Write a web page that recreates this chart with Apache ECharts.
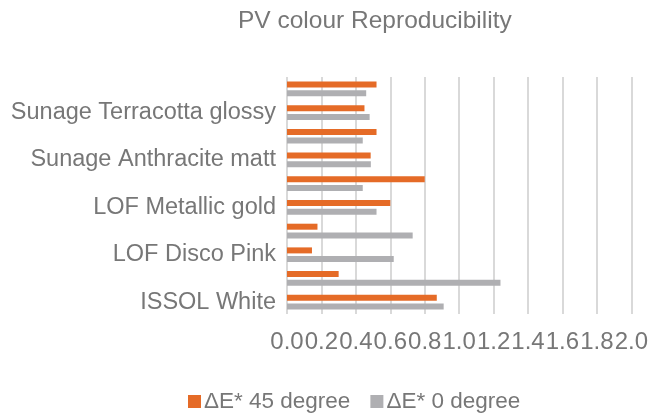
<!DOCTYPE html>
<html>
<head>
<meta charset="utf-8">
<script src="https://cdn.jsdelivr.net/npm/echarts@6/dist/echarts.min.js"></script>
<style>html,body{margin:0;padding:0;background:#fff;}#c{width:651px;height:417px;}</style>
</head>
<body>
<div id="c"></div>
<script>
// categories listed bottom to top
var categories = ['ISSOL White', 'ISSOL Terracotta', 'LOF Disco Pink', 'LOF Blue', 'LOF Metallic gold',
  'Sunage Anthracite glossy', 'Sunage Anthracite matt', 'Sunage Terracotta matt', 'Sunage Terracotta glossy', 'Sunage Green glossy'];
var seriesNames = ['ΔE* 45 degree', 'ΔE* 0 degree'];
var deltaE45 = [0.87, 0.30, 0.145, 0.177, 0.60, 0.80, 0.486, 0.52, 0.45, 0.52];
var deltaE0 = [0.91, 1.24, 0.62, 0.73, 0.52, 0.44, 0.487, 0.44, 0.48, 0.46];
var xTicks = ['0.0','0.2','0.4','0.6','0.8','1.0','1.2','1.4','1.6','1.8','2.0'];

var chart = echarts.init(document.getElementById('c'), null, {renderer: 'canvas'});
var txt = '#777777';
var font = '"Liberation Sans", Arial, sans-serif';
chart.setOption({
  animation: false,
  title: {
    text: 'PV colour Reproducibility',
    left: 233, top: 4,
    textStyle: {color: txt, fontSize: 24.5, fontWeight: 'normal', fontFamily: font}
  },
  legend: {
    data: seriesNames,
    top: 385, left: 183,
    itemWidth: 13, itemHeight: 13, itemGap: 20,
    icon: 'rect',
    textStyle: {color: txt, fontSize: 22.5, fontFamily: font, padding: [0,0,0,-2]}
  },
  grid: {left: 287, right: 18, top: 77, bottom: 103, containLabel: false},
  xAxis: {
    type: 'value', min: 0, max: 2, interval: 0.2,
    axisLine: {show: false}, axisTick: {show: false},
    axisLabel: {
      color: txt, fontSize: 24, fontFamily: font, margin: 16,
      formatter: function (v) { return xTicks[Math.round(v / 0.2)]; }
    },
    splitLine: {show: true, lineStyle: {color: '#d9d9d9', width: 2}}
  },
  yAxis: {
    type: 'category', data: categories,
    axisLine: {show: false}, axisTick: {show: false},
    axisLabel: {interval: 1, color: txt, fontSize: 23.5, fontFamily: font, margin: 11}
  },
  series: [
    {name: seriesNames[0], type: 'bar', data: deltaE45, barWidth: 6, barGap: '45%',
     itemStyle: {color: '#E56B27'}},
    {name: seriesNames[1], type: 'bar', data: deltaE0, barWidth: 6, barGap: '45%',
     itemStyle: {color: '#AFAFB2'}}
  ]
});
</script>
</body>
</html>
